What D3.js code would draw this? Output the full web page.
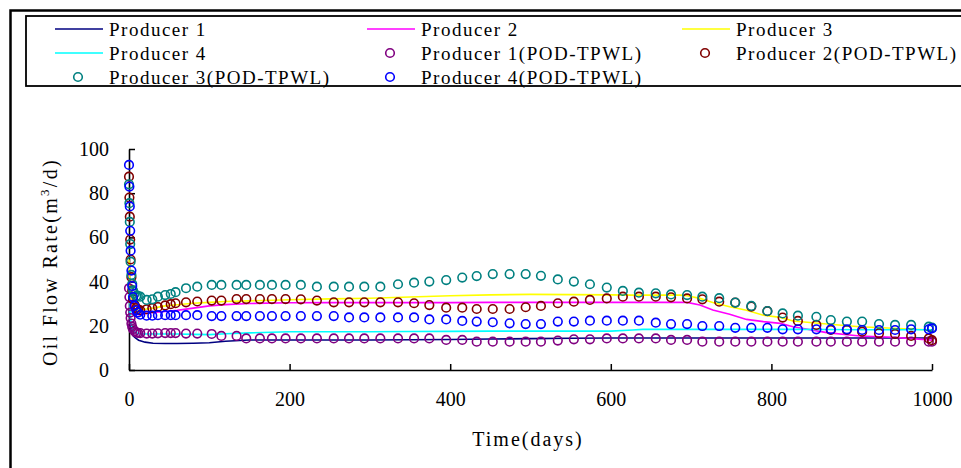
<!DOCTYPE html>
<html><head><meta charset="utf-8">
<script src="https://cdn.jsdelivr.net/npm/d3@7"></script>
<style>
body{margin:0;background:#fff;}
svg text{font-family:"Liberation Serif","DejaVu Serif",serif;fill:#000;}
</style></head>
<body><svg id="c" width="961" height="468"></svg>
<script>
// ---- data ----
const lineDays = [0,1,2,3,5,8,12,20,30,45,60,80,100,120,150,200,250,300,350,400,450,500,550,600,627,640,686,695,711,727,748,769,790,811,827,869,910,951,1000];
const producer1 = [28,22,19,17,15.5,14.5,13.5,12.6,12.1,12,12,12.1,12.3,13,13.6,13.6,13.6,13.6,13.7,13.8,14,14.2,14.4,14.5,14.5,14.5,14.5,14.5,14.5,14.5,14.5,14.5,14.5,14.5,14.5,14.5,14.5,14.5,14.5];
const producer2 = [45,38,33,30,27,25.5,25,25.5,26,26.5,27,28,29,29.6,30.1,30.4,30.5,30.5,30.5,30.5,30.6,30.6,30.6,30.6,30.6,30.6,30.6,30.6,29.4,27.1,25.2,22.9,21.9,21.1,19.6,16.9,15.4,14.8,13.5];
const producer3 = [50,42,36,32,29,27.5,27,27.5,28,29,29.5,30.2,30.6,31,31.3,31.8,32.2,32.5,33,33.6,34,34.2,34.1,34,33.9,33.9,33.9,33.6,32.4,30.5,28.6,27,24.8,23.8,22.2,20.8,19.6,18.9,18.1];
const producer4 = [35,28,23,20,18,17,16.5,16.3,16.3,16.3,16.3,16.1,16,16.4,16.8,17.3,17.3,17.3,17.4,17.5,17.6,17.6,17.6,17.6,18.1,18.4,18.4,18.4,18.4,18.4,18.4,18.4,18.4,18.4,18.4,18.3,18.2,18.2,18.2];

const podDays = [0,0.5,1,1.5,2,3,4,5,7,9,11,
  14,22,29,36,45,52,58,71,85,103,115,134,146,163,178,195,214,234,255,274,293,313,335,355,374,395,415,433,453,
  474,494,513,534,554,574,595,615,635,656,675,695,714,735,755,775,795,814,833,856,874,894,913,934,954,974,996,1000];
const pod1 = [37,33,29,26,23.5,21,19.5,18.5,17.5,17,16.8,
  16.7,16.5,16.5,16.6,16.7,16.7,16.7,16.5,16.5,16.3,15.4,15.4,14.3,14.3,14.3,14.3,14.3,14.3,14.3,14.3,14.3,14.3,14.3,14.3,14.3,13.6,13.6,12.8,12.8,
  12.8,12.8,12.8,13.3,13.9,13.9,14.3,14.3,14.3,14.3,13.6,13.6,12.8,12.8,12.8,12.8,12.8,12.8,12.8,12.8,12.8,12.8,12.8,12.8,12.8,12.8,12.8,12.8];
const pod2 = [87.5,78,69.4,59,50,42,36,32,29.5,28,27.5,
  27,27.5,28,28.5,29.2,29.8,30.2,30.6,31,31.4,31.4,32.1,32.1,32.1,32.1,32.1,32,31.4,30.6,30.6,30.6,30.6,30.6,30.2,29.4,28.2,28.2,27.6,27.6,
  27.6,28.4,29,30.2,30.9,31.7,32.4,33.2,33.2,33.2,32.9,32.4,32,30.9,30.5,28.7,26.6,23.7,22.2,20.4,18.1,18.1,17.3,16.6,16.3,15.4,14.3,13.5];
const pod3 = [84,75.5,67,57,49,43,39,36,34.5,33.5,33.5,
  33.2,31.7,32,33.2,33.9,34.4,35.2,37,37.7,38.5,38.5,38.5,38.5,38.5,38.5,38.5,38.5,37.7,37.7,37.7,37.7,37.7,38.8,39.5,40,40.7,41.8,42.5,43.4,
  43.4,43.4,42.6,41,40,38.8,37.3,35.8,35,34.7,34.2,33.9,33.2,32.5,30.5,29,26.7,25.6,24.6,24.1,22.6,21.9,21.9,20.8,20.4,20.4,19.6,19.2];
const pod4 = [92.8,83,74,63,54,45,38,33,29,27,26,
  25,24.6,24.6,24.8,24.8,24.8,24.8,24.8,24.8,24.4,24.4,24.4,24.4,24.4,24.4,24.4,24.4,24.4,24.4,23.8,23.8,23.8,23.8,23.8,22.9,22.9,22.2,21.9,21.6,
  21.1,20.8,20.8,21.9,21.9,22.3,22.3,22.3,22.3,21.4,20.8,20.8,19.9,19.9,19.1,19.1,19.1,18.4,18.4,18.4,18.4,18.4,18.1,18.1,18.1,18.4,18.4,18.8];

const xTicks = [0,200,400,600,800,1000];
const yTicks = [0,20,40,60,80,100];

const lineSeries = [
  {name:"Producer 1", values:producer1, color:"#000080"},
  {name:"Producer 2", values:producer2, color:"#FF00FF"},
  {name:"Producer 3", values:producer3, color:"#FFFF00"},
  {name:"Producer 4", values:producer4, color:"#00FFFF"}
];
const podSeries = [
  {name:"Producer 1(POD-TPWL)", values:pod1, color:"#800080"},
  {name:"Producer 2(POD-TPWL)", values:pod2, color:"#800000"},
  {name:"Producer 3(POD-TPWL)", values:pod3, color:"#008080"},
  {name:"Producer 4(POD-TPWL)", values:pod4, color:"#0000FF"}
];

const svg = d3.select("#c");
// outer frame
svg.append("rect").attr("x",10.5).attr("y",10.5).attr("width",1000).attr("height",600)
  .attr("fill","none").attr("stroke","#000").attr("stroke-width",2.5);
// legend box
svg.append("rect").attr("x",26).attr("y",16).attr("width",1000).attr("height",70)
  .attr("fill","none").attr("stroke","#000").attr("stroke-width",1.8);

const x = d3.scaleLinear().domain([0,1000]).range([129,932]);
const y = d3.scaleLinear().domain([0,100]).range([370,149]);

// axes
const gx = svg.append("g").attr("transform","translate(0,370)")
  .call(d3.axisBottom(x).tickValues(xTicks).tickFormat(d3.format("d")).tickSizeInner(-6).tickSizeOuter(0).tickPadding(22));
const gy = svg.append("g").attr("transform","translate(129,0)")
  .call(d3.axisLeft(y).tickValues(yTicks).tickFormat(d3.format("d")).tickSizeInner(-6).tickSizeOuter(0).tickPadding(20));
[gx,gy].forEach(g=>{
  g.select(".domain").attr("stroke","#000").attr("stroke-width",1.6);
  g.selectAll(".tick line").attr("stroke","#000").attr("stroke-width",1.5);
  g.selectAll(".tick text").attr("font-size",20).attr("font-family","Liberation Serif").attr("fill","#000");
});

// lines
const line = d3.line().x((d,i)=>x(lineDays[i])).y(d=>y(d));
const plot = svg.append("g");
lineSeries.forEach(s=>{
  plot.append("path").datum(s.values).attr("d",line)
    .attr("fill","none").attr("stroke",s.color).attr("stroke-width",1.6);
});
// markers
podSeries.forEach(s=>{
  plot.append("g").selectAll("circle").data(s.values).join("circle")
    .attr("cx",(d,i)=>x(podDays[i])).attr("cy",d=>y(d)).attr("r",4.3)
    .attr("fill","none").attr("stroke",s.color).attr("stroke-width",1.6);
});

// axis titles
svg.append("text").attr("x",528).attr("y",446).attr("text-anchor","middle")
  .attr("font-size",20).attr("letter-spacing",2).text("Time(days)");
const yt = svg.append("text").attr("transform","translate(57,262) rotate(-90)")
  .attr("text-anchor","middle").attr("font-size",20).attr("letter-spacing",2.3);
yt.append("tspan").text("Oil Flow Rate(m");
yt.append("tspan").attr("font-size",13).attr("dy",-8).text("3");
yt.append("tspan").attr("dy",8).text("/d)");

// legend
const legItems = [
  {s:lineSeries[0],type:"line",col:0,row:0},
  {s:lineSeries[1],type:"line",col:1,row:0},
  {s:lineSeries[2],type:"line",col:2,row:0},
  {s:lineSeries[3],type:"line",col:0,row:1},
  {s:podSeries[0],type:"dot",col:1,row:1},
  {s:podSeries[1],type:"dot",col:2,row:1},
  {s:podSeries[2],type:"dot",col:0,row:2},
  {s:podSeries[3],type:"dot",col:1,row:2}
];
const colX = [55,367,682];
const rowY = [29,53,77];
const leg = svg.append("g");
legItems.forEach(it=>{
  const x0 = colX[it.col], yy = rowY[it.row];
  if(it.type==="line"){
    leg.append("line").attr("x1",x0).attr("x2",x0+48).attr("y1",yy).attr("y2",yy)
      .attr("stroke",it.s.color).attr("stroke-width",1.6);
  } else {
    leg.append("circle").attr("cx",x0+23).attr("cy",yy).attr("r",4.3)
      .attr("fill","none").attr("stroke",it.s.color).attr("stroke-width",1.6);
  }
  leg.append("text").attr("x",x0+54).attr("y",yy+6.5).attr("font-size",19)
    .attr("letter-spacing",1.5).text(it.s.name);
});
</script></body></html>
